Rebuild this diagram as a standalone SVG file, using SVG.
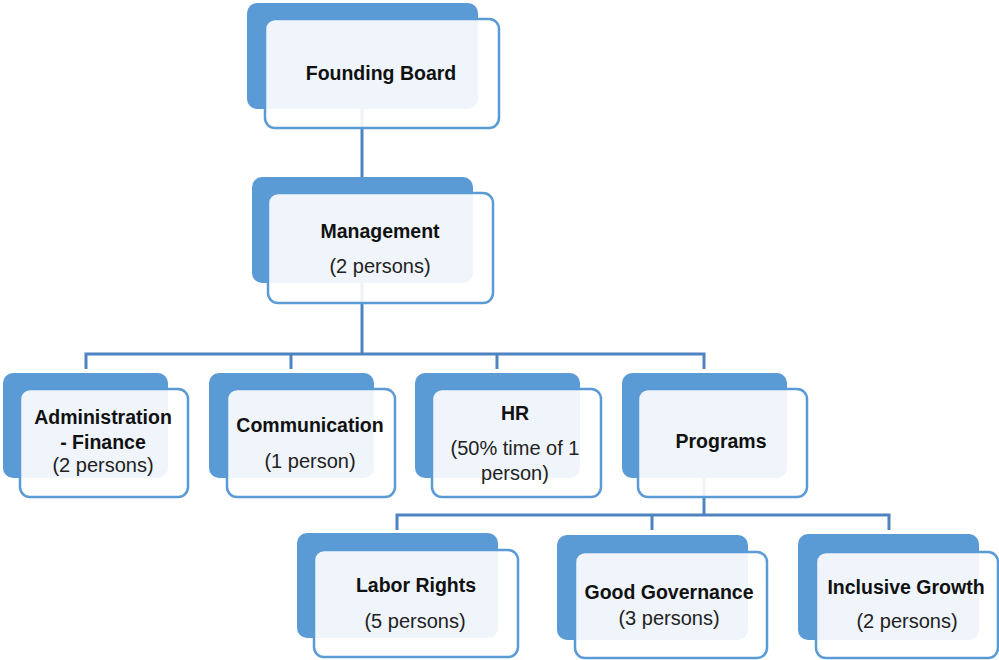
<svg xmlns="http://www.w3.org/2000/svg" width="999" height="660" viewBox="0 0 999 660">
<style>
.back{fill:#5b9bd5;}
.front{fill:#ffffff;fill-opacity:0.9;stroke:#5b9bd5;stroke-width:2.5;}
.conn{fill:none;stroke:#4f84c0;stroke-width:3;}
.b{font-family:"Liberation Sans",Arial,sans-serif;font-weight:bold;font-size:19.5px;fill:#111;text-anchor:middle;}
.r{font-family:"Liberation Sans",Arial,sans-serif;font-size:20px;fill:#222;text-anchor:middle;}
</style>
<rect width="999" height="660" fill="#ffffff"/>
<g id="connectors">
<path class="conn" d="M362 109 V177"/>
<path class="conn" d="M362 283 V354"/>
<path class="conn" d="M86 369 V354 H704 V369 M291 354 V369 M497 354 V369"/>
<path class="conn" d="M704 478 V515"/>
<path class="conn" d="M397 530 V515 H889 V530 M652 515 V530"/>
</g>
<g id="founding-board">
<rect class="back" x="247" y="3" width="231" height="106" rx="10"/>
<rect class="front" x="265" y="19" width="234" height="109" rx="10"/>
<text class="b" x="381" y="80">Founding Board</text>
</g>
<g id="management">
<rect class="back" x="252" y="177" width="221" height="106" rx="10"/>
<rect class="front" x="268" y="193" width="225" height="110" rx="10"/>
<text class="b" x="380" y="238">Management</text>
<text class="r" x="380" y="273">(2 persons)</text>
</g>
<g id="admin-finance">
<rect class="back" x="3" y="373" width="165" height="105" rx="10"/>
<rect class="front" x="20" y="389" width="168" height="108" rx="10"/>
<text class="b" x="103" y="424">Administration</text>
<text class="b" x="103" y="449">- Finance</text>
<text class="r" x="103" y="472">(2 persons)</text>
</g>
<g id="communication">
<rect class="back" x="209" y="373" width="165" height="105" rx="10"/>
<rect class="front" x="227" y="389" width="168" height="108" rx="10"/>
<text class="b" x="310" y="432">Communication</text>
<text class="r" x="310" y="468">(1 person)</text>
</g>
<g id="hr">
<rect class="back" x="415" y="373" width="165" height="105" rx="10"/>
<rect class="front" x="432" y="389" width="169" height="108" rx="10"/>
<text class="b" x="515" y="420">HR</text>
<text class="r" x="515" y="455">(50% time of 1</text>
<text class="r" x="515" y="480">person)</text>
</g>
<g id="programs">
<rect class="back" x="622" y="373" width="165" height="105" rx="10"/>
<rect class="front" x="638" y="389" width="169" height="108" rx="10"/>
<text class="b" x="721" y="448">Programs</text>
</g>
<g id="labor-rights">
<rect class="back" x="297" y="533" width="201" height="105" rx="10"/>
<rect class="front" x="314" y="550" width="204" height="107" rx="10"/>
<text class="b" x="416" y="592">Labor Rights</text>
<text class="r" x="415" y="628">(5 persons)</text>
</g>
<g id="good-governance">
<rect class="back" x="557" y="535" width="191" height="105" rx="10"/>
<rect class="front" x="575" y="552" width="192" height="106" rx="10"/>
<text class="b" x="669" y="599">Good Governance</text>
<text class="r" x="669" y="625">(3 persons)</text>
</g>
<g id="inclusive-growth">
<rect class="back" x="798" y="534" width="181" height="106" rx="10"/>
<rect class="front" x="816" y="552" width="182" height="106" rx="10"/>
<text class="b" x="906" y="594">Inclusive Growth</text>
<text class="r" x="907" y="628">(2 persons)</text>
</g>
</svg>
